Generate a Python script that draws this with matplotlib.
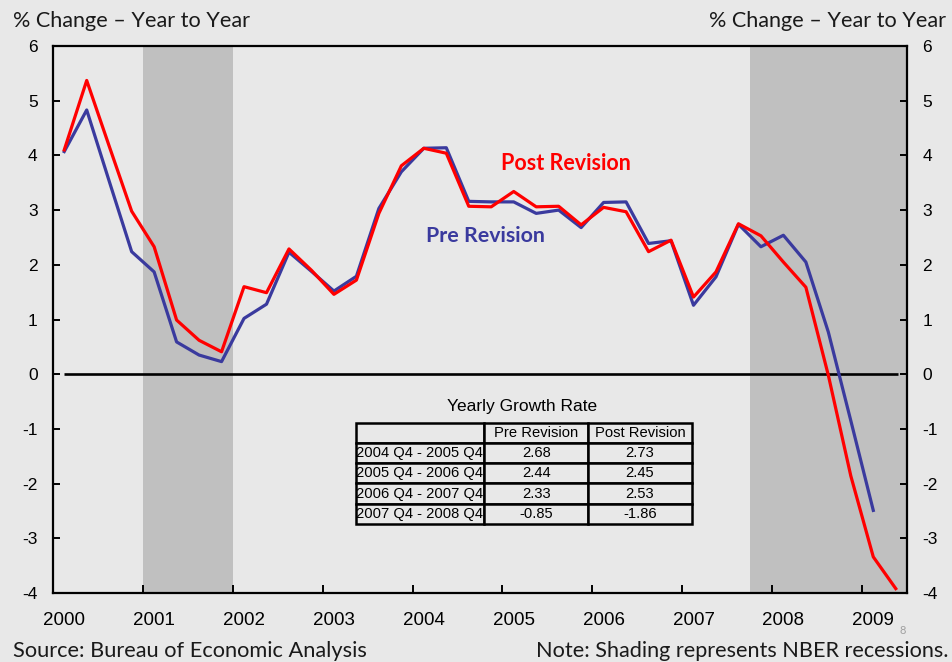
import matplotlib
matplotlib.use("Agg")
import matplotlib.pyplot as plt
import numpy as np

# ---------------- data ----------------
years = list(range(2000, 2010))
pre_revision = [4.07, 4.83, 3.53, 2.24,
                1.87, 0.59, 0.35, 0.23,
                1.02, 1.28, 2.23, 1.88,
                1.52, 1.79, 3.03, 3.70,
                4.13, 4.14, 3.16, 3.15,
                3.15, 2.94, 3.00, 2.68,
                3.14, 3.15, 2.39, 2.44,
                1.26, 1.78, 2.74, 2.33,
                2.54, 2.05, 0.77, -0.85,
                -2.49]
post_revision = [4.10, 5.37, 4.17, 2.98,
                 2.33, 0.99, 0.62, 0.41,
                 1.60, 1.49, 2.29, 1.90,
                 1.46, 1.72, 2.94, 3.81,
                 4.13, 4.04, 3.07, 3.06,
                 3.34, 3.06, 3.07, 2.73,
                 3.05, 2.97, 2.24, 2.45,
                 1.41, 1.87, 2.75, 2.53,
                 2.05, 1.59, -0.02, -1.86,
                 -3.34, -3.92]
recessions = [(2001.0, 2002.0), (2007.75, 2009.5)]
y_ticks = [6, 5, 4, 3, 2, 1, 0, -1, -2, -3, -4]

table_title = "Yearly Growth Rate"
table_cols = ["", "Pre Revision", "Post Revision"]
table_periods = ["2004 Q4 - 2005 Q4", "2005 Q4 - 2006 Q4",
                 "2006 Q4 - 2007 Q4", "2007 Q4 - 2008 Q4"]
table_pre = ["2.68", "2.44", "2.33", "-0.85"]
table_post = ["2.73", "2.45", "2.53", "-1.86"]

# quarter centres: Q1 2000 -> 2000.125
q_pre = 2000 + 0.125 + 0.25 * np.arange(len(pre_revision))
q_post = 2000 + 0.125 + 0.25 * np.arange(len(post_revision))

BG = "#e8e8e8"
SHADE = "#c0c0c0"
RED = "#ff0000"
BLUE = "#3a3a9e"
TXT = "#1a1a1a"
HEAD_FONT = ["Lato", "DejaVu Sans"]
NUM_FONT = "Liberation Sans"

fig = plt.figure(figsize=(9.52, 6.62), dpi=100, facecolor=BG)
ax = fig.add_axes([53 / 952, 1 - 593 / 662, (907 - 53) / 952, (593 - 46) / 662])
ax.set_facecolor(BG)

for a, b in recessions:
    ax.axvspan(a, b, color=SHADE, lw=0, zorder=0)

ax.plot([q_post[0], q_post[-1] + 0.02], [0, 0], color="black", lw=1.9, zorder=1,
        solid_capstyle="butt")
ax.plot(q_pre, pre_revision, color=BLUE, lw=2.3, zorder=2)
ax.plot(q_post, post_revision, color=RED, lw=2.3, zorder=3)

ax.set_xlim(2000, 2009.5)
ax.set_ylim(-4, 6)

ax.set_yticks(y_ticks)
ax.set_yticklabels([str(v) for v in y_ticks])
ax.tick_params(axis="y", which="both", direction="in", length=5, width=1.4,
               left=True, right=True, labelleft=True, labelright=True,
               pad=11, labelsize=12.5, labelcolor="black",
               labelfontfamily=NUM_FONT)

ax.set_xticks(years)
ax.set_xticklabels([])
ax.set_xticks([y + 0.125 for y in years], minor=True)
ax.set_xticklabels([str(y) for y in years], minor=True)
ax.tick_params(axis="x", which="major", direction="in", length=6, width=1.4)
ax.tick_params(axis="x", which="minor", length=0, pad=14, labelsize=13.5,
               labelcolor="black", labelfontfamily=NUM_FONT)

for s in ax.spines.values():
    s.set_linewidth(1.6)
    s.set_color("black")

# series labels
ax.text(2005.71, 3.86, "Post Revision", color=RED, fontsize=15.5,
        fontweight="bold", family=HEAD_FONT, ha="center", va="center")
ax.text(2004.81, 2.52, "Pre Revision", color=BLUE, fontsize=15.4,
        fontweight="bold", family=HEAD_FONT, ha="center", va="center")

# header / footer texts
fig.text(13 / 952, 1 - 21 / 662, "% Change \u2013 Year to Year", fontsize=15.6,
         family=HEAD_FONT, color=TXT, ha="left", va="center")
fig.text(946 / 952, 1 - 21 / 662, "% Change \u2013 Year to Year", fontsize=15.6,
         family=HEAD_FONT, color=TXT, ha="right", va="center")
fig.text(13 / 952, 1 - 651 / 662, "Source: Bureau of Economic Analysis",
         fontsize=15.7, family=HEAD_FONT, color=TXT, ha="left", va="center")
fig.text(948 / 952, 1 - 651 / 662, "Note: Shading represents NBER recessions.",
         fontsize=15.6, family=HEAD_FONT, color=TXT, ha="right", va="center")
fig.text(903 / 952, 1 - 630 / 662, "8", fontsize=8, family=HEAD_FONT,
         color="#a0a0a0", ha="center", va="center")

# growth-rate table
fig.text(521.7 / 952, 1 - 406 / 662, table_title, fontsize=12.5,
         family=NUM_FONT, color="black", ha="center", va="center")
cell_text = [table_cols] + [[p, a, b] for p, a, b in
                            zip(table_periods, table_pre, table_post)]
tax = fig.add_axes([355.7 / 952, 1 - 524 / 662, 336 / 952, 101.3 / 662])
tax.axis("off")
tbl = tax.table(cellText=cell_text, colWidths=[0.382, 0.310, 0.308],
                bbox=[0, 0, 1, 1], cellLoc="center")
tbl.auto_set_font_size(False)
for (r, c), cell in tbl.get_celld().items():
    cell.set_facecolor(BG)
    cell.set_edgecolor("black")
    cell.set_linewidth(1.8)
    cell.get_text().set_fontsize(10.6)
    cell.get_text().set_fontfamily(NUM_FONT)
    cell.get_text().set_color("black")
    if c == 0:
        cell.get_text().set_ha("left")
        cell.PAD = 0.005

fig.savefig("out.png", dpi=100, facecolor=BG)
